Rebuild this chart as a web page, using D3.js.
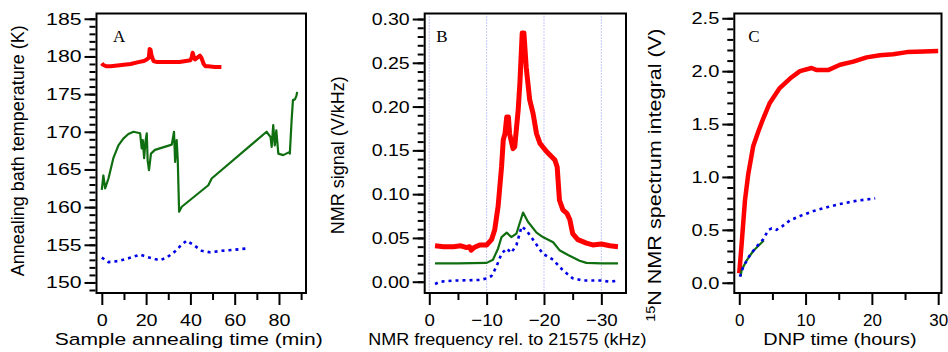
<!DOCTYPE html>
<html>
<head>
<meta charset="utf-8">
<script src="https://cdn.jsdelivr.net/npm/d3@7"></script>
<style>
  body { margin: 0; background: #fff; }
  svg text { font-family: Arial, "Liberation Sans", sans-serif; fill: #000; }
</style>
</head>
<body>
<svg width="948" height="352"></svg>
<script>
// ---- panel A: annealing bath temperature (K) vs time (min)
var aRedT = [0, 0.5, 2, 4, 7, 10, 13, 16.5, 19, 20.3, 21.2, 21.6, 22, 22.4, 23.3, 25, 30, 35, 38, 40, 40.6, 41, 41.5, 42.1, 43, 44.3, 45, 46, 46.8, 48, 51, 54];
var aRedV = [179.1, 178.9, 178.7, 178.7, 178.8, 178.9, 179.0, 179.25, 179.4, 179.6, 179.8, 181.0, 180.9, 180.2, 179.4, 179.25, 179.25, 179.25, 179.4, 179.5, 179.9, 180.5, 180.0, 179.6, 179.8, 180.1, 179.8, 179.0, 178.7, 178.7, 178.6, 178.6];

var aGreenT = [0, 0.7, 1.5, 3, 5.2, 7.5, 9.7, 12, 14.3, 15.8, 17.3, 18.0, 18.5, 19.1, 19.7, 20.3, 20.7, 21.3, 22.2, 24, 31.6, 32.6, 33.1, 33.8, 34.3, 34.9, 36.1, 48.1, 49.6, 74.4, 76.2, 76.7, 77.4, 78.1, 78.8, 79.7, 81.9, 84.6, 84.9, 85.7, 86.3, 87.2, 87.9, 88.2];
var aGreenV = [162.3, 164.2, 162.5, 163.8, 166.5, 168.2, 169.1, 169.7, 170.0, 169.9, 169.8, 167.8, 168.9, 166.5, 168.7, 169.8, 166.2, 164.9, 167.1, 167.6, 168.3, 170.0, 166.0, 168.9, 166.2, 159.4, 160.05, 162.9, 163.8, 170.0, 169.3, 168.0, 170.9, 168.2, 170.2, 167.1, 166.9, 167.3, 167.1, 171.5, 174.2, 174.3, 174.8, 175.3];

var aBlueT = [0, 3, 7.5, 12, 17.3, 20.3, 24, 26.3, 29.3, 33, 36, 38.3, 41.3, 45.1, 48.8, 54.1, 58.6, 65];
var aBlueV = [153.3, 152.7, 152.85, 153.2, 153.7, 153.4, 153.1, 152.95, 153.3, 154.1, 155.0, 155.55, 155.0, 154.2, 154.0, 154.2, 154.3, 154.5];

// ---- panel B: NMR signal (V/kHz) vs frequency (kHz)
var bRedF = [-1, -2.5, -4.2, -5.5, -6.5, -7.0, -7.3, -7.8, -8.8, -10, -10.85, -11.4, -12, -12.6, -12.9, -13.2, -13.5, -13.8, -14.0, -14.6, -14.9, -15.5, -15.8, -16.2, -16.5, -16.9, -17.5, -18.1, -18.7, -19.3, -20.4, -21.3, -21.9, -22.3, -22.7, -23.3, -24.0, -24.5, -25.0, -25.9, -27.4, -28.5, -30, -31.5, -32.9];
var bRedV = [0.041, 0.040, 0.040, 0.041, 0.039, 0.040, 0.036, 0.039, 0.042, 0.042, 0.048, 0.059, 0.086, 0.131, 0.162, 0.169, 0.188, 0.188, 0.169, 0.152, 0.154, 0.196, 0.227, 0.284, 0.284, 0.245, 0.208, 0.192, 0.169, 0.158, 0.149, 0.143, 0.139, 0.131, 0.093, 0.082, 0.078, 0.071, 0.055, 0.048, 0.044, 0.042, 0.043, 0.041, 0.040];

var bGreenF = [-1, -5, -10, -11.1, -12.0, -12.6, -13.5, -14.3, -15.2, -16.35, -17.2, -18.7, -19.8, -21.6, -22.7, -24.2, -26.2, -27.4, -30, -32.9];
var bGreenV = [0.021, 0.021, 0.0215, 0.025, 0.038, 0.051, 0.056, 0.051, 0.055, 0.079, 0.0685, 0.056, 0.051, 0.045, 0.036, 0.0305, 0.024, 0.0215, 0.021, 0.021];

var bBlueF = [-1, -1.9, -4.2, -8.8, -10, -10.85, -11.7, -12.6, -13.5, -14.3, -15.2, -16.1, -16.9, -18.1, -19.8, -21.6, -23.3, -25.0, -26.8, -30, -31.4, -33.1];
var bBlueV = [-0.0026, 0.0, 0.0013, 0.002, 0.0038, 0.0065, 0.017, 0.032, 0.038, 0.033, 0.042, 0.063, 0.059, 0.048, 0.032, 0.025, 0.013, 0.004, 0.0013, 0.0013, 0.0, 0.0013];

// ---- panel C: 15N NMR spectrum integral (V) vs DNP time (hours)
var cRedH = [0, 0.36, 0.86, 1.36, 2.1, 2.87, 3.6, 4.6, 6.1, 7.65, 9.15, 10.9, 11.7, 13.4, 15.2, 17.2, 19.2, 21.2, 23.2, 25.3, 27.8, 30];
var cRedV = [0.09, 0.37, 0.78, 1.03, 1.29, 1.43, 1.55, 1.70, 1.84, 1.93, 2.0, 2.03, 2.01, 2.01, 2.06, 2.09, 2.13, 2.15, 2.16, 2.18, 2.185, 2.19];

var cGreenH = [0.2, 0.36, 1.1, 2.1, 3.7];
var cGreenV = [0.06, 0.12, 0.21, 0.30, 0.40];

var cBlueH = [0.1, 0.6, 1.6, 2.6, 3.6, 4.4, 4.9, 5.6, 6.4, 7.65, 9.15, 11.2, 13.2, 15.2, 17.7, 20.5];
var cBlueV = [0.057, 0.15, 0.26, 0.34, 0.41, 0.50, 0.514, 0.50, 0.53, 0.59, 0.63, 0.678, 0.713, 0.744, 0.775, 0.798];

// tick labels
var aXTicks = [0, 20, 40, 60, 80];
var aYTicks = [150, 155, 160, 165, 170, 175, 180, 185];
var bXTicks = [0, -10, -20, -30];
var bYTicks = [0, 0.05, 0.10, 0.15, 0.20, 0.25, 0.30];
var cXTicks = [0, 10, 20, 30];
var cYTicks = [0, 0.5, 1.0, 1.5, 2.0, 2.5];

var RED = "#ff0000", GREEN = "#0f6e0f", BLUE = "#0000e6";

var svg = d3.select("svg");
var top0 = 13.5, bot0 = 293;

function pts(xs, ys) {
    return xs.map(function (d, i) { return [d, ys[i]]; });
}

function panel(p) {
    var x = d3.scaleLinear().domain(p.xDom).range([p.left, p.right]);
    var y = d3.scaleLinear().domain(p.yDom).range([bot0, top0]);
    var g = svg.append("g");

    // vertical dotted grid (panel B)
    if (p.grid) {
        g.selectAll("line.grid").data(p.grid).enter().append("line")
            .attr("x1", function (d) { return x(d); }).attr("x2", function (d) { return x(d); })
            .attr("y1", top0).attr("y2", bot0)
            .attr("stroke", "#8c8cf0").attr("stroke-width", 1)
            .attr("stroke-dasharray", "1,2");
    }

    var line = d3.line().x(function (d) { return x(d[0]); }).y(function (d) { return y(d[1]); });
    p.series.forEach(function (s) {
        g.append("path").datum(s.data)
            .attr("d", line)
            .attr("fill", "none")
            .attr("stroke", s.color)
            .attr("stroke-width", s.width)
            .attr("stroke-linejoin", "round")
            .attr("stroke-dasharray", s.dash || null);
    });

    // frame
    g.append("rect").attr("x", p.left).attr("y", top0)
        .attr("width", p.right - p.left).attr("height", bot0 - top0)
        .attr("fill", "none").attr("stroke", "#000").attr("stroke-width", 2);

    // minor + major ticks
    var yMinor = d3.axisLeft(y).tickValues(p.yMinor).tickSize(6).tickFormat("");
    var yMajor = d3.axisLeft(y).tickValues(p.yTicks).tickSize(11).tickPadding(3).tickFormat(p.yFmt);
    var xMinor = d3.axisBottom(x).tickValues(p.xMinor).tickSize(6).tickFormat("");
    var xMajor = d3.axisBottom(x).tickValues(p.xTicks).tickSize(11).tickPadding(9).tickFormat(p.xFmt);

    g.append("g").attr("transform", "translate(" + (p.left - 1) + ",0)").call(yMinor);
    var gy = g.append("g").attr("transform", "translate(" + (p.left - 1) + ",0)").call(yMajor);
    g.append("g").attr("transform", "translate(0," + (bot0 + 1) + ")").call(xMinor);
    var gx = g.append("g").attr("transform", "translate(0," + (bot0 + 1) + ")").call(xMajor);

    g.selectAll(".domain").remove();
    g.selectAll(".tick line").attr("stroke", "#000").attr("stroke-width", 2);
    g.selectAll(".tick text").style("font-size", "17px")
        .style("font-family", "Arial, 'Liberation Sans', sans-serif");
    // horizontal stretch of the labels, label end kept in place on the y axis
    gy.selectAll(".tick text").attr("transform", "scale(" + p.tickScale + ",1)")
        .attr("x", -14 / p.tickScale);
    gx.selectAll(".tick text").attr("transform", "scale(" + p.xTickScale + ",1)");

    // panel letter
    g.append("text").attr("x", p.left + p.letterDx).attr("y", 42)
        .style("font-family", "'Times New Roman', 'Liberation Serif', serif")
        .style("font-size", "17px").text(p.letter);

    // axis titles
    g.append("text")
        .attr("transform", "translate(" + ((p.left + p.right) / 2 + p.xTitleDx) + ",345) scale(" + p.xTitleScale + ",1)")
        .attr("text-anchor", "middle").style("font-size", "17px").text(p.xTitle);
    var yt = g.append("text")
        .attr("transform", "translate(" + p.yTitleX + "," + ((top0 + bot0) / 2 + p.yTitleDy) + ") rotate(-90) scale(" + p.yTitleScale + ",1)")
        .attr("text-anchor", "middle").style("font-size", "18px");
    if (p.yTitleSup) {
        yt.append("tspan").attr("baseline-shift", "super").style("font-size", "12px").text(p.yTitleSup);
    }
    yt.append("tspan").text(p.yTitle);
}

panel({
    left: 96.5, right: 306, xDom: [-2.4, 92.2], yDom: [148.6, 185.7],
    xTicks: aXTicks, xMinor: d3.range(10, 100, 20), yTicks: aYTicks, yMinor: d3.range(149, 186, 1),
    xFmt: d3.format("d"), yFmt: d3.format("d"), tickScale: 1.25, xTickScale: 1.16,
    letter: "A", letterDx: 16.5,
    xTitle: "Sample annealing time (min)", xTitleDx: -12.5, xTitleScale: 1.24,
    yTitle: "Annealing bath temperature (K)", yTitleX: 24, yTitleDy: -2.5, yTitleScale: 1,
    series: [
        { data: pts(aRedT, aRedV), color: RED, width: 4 },
        { data: pts(aGreenT, aGreenV), color: GREEN, width: 2.2 },
        { data: pts(aBlueT, aBlueV), color: BLUE, width: 2.6, dash: "3,4" }
    ]
});

panel({
    left: 424.7, right: 626, xDom: [0.8, -34.3], yDom: [-0.0129, 0.3063],
    grid: [0, -10, -20, -30],
    xTicks: bXTicks, xMinor: [-5, -15, -25], yTicks: bYTicks, yMinor: d3.range(0, 0.305, 0.01),
    xFmt: d3.format("d"), yFmt: d3.format(".2f"), tickScale: 1.15, xTickScale: 1.1,
    letter: "B", letterDx: 11.5,
    xTitle: "NMR frequency rel. to 21575 (kHz)", xTitleDx: -18, xTitleScale: 1.06,
    yTitle: "NMR signal (V/kHz)", yTitleX: 344, yTitleDy: 2, yTitleScale: 1,
    series: [
        { data: pts(bRedF, bRedV), color: RED, width: 5 },
        { data: pts(bGreenF, bGreenV), color: GREEN, width: 2.2 },
        { data: pts(bBlueF, bBlueV), color: BLUE, width: 2.6, dash: "3,4" }
    ]
});

panel({
    left: 734.3, right: 941.5, xDom: [-0.75, 30.5], yDom: [-0.097, 2.545],
    xTicks: cXTicks, xMinor: [5, 15, 25], yTicks: cYTicks, yMinor: d3.range(0, 2.55, 0.1),
    xFmt: d3.format("d"), yFmt: d3.format(".1f"), tickScale: 1.18, xTickScale: 1.0,
    letter: "C", letterDx: 14,
    xTitle: "DNP time (hours)", xTitleDx: 2, xTitleScale: 1.17,
    yTitle: "N NMR spectrum integral (V)", yTitleSup: "15", yTitleX: 661, yTitleDy: 22, yTitleScale: 1.2,
    series: [
        { data: pts(cRedH, cRedV), color: RED, width: 4.5 },
        { data: pts(cGreenH, cGreenV), color: GREEN, width: 2.2 },
        { data: pts(cBlueH, cBlueV), color: BLUE, width: 2.6, dash: "3,4" }
    ]
});
</script>
</body>
</html>
